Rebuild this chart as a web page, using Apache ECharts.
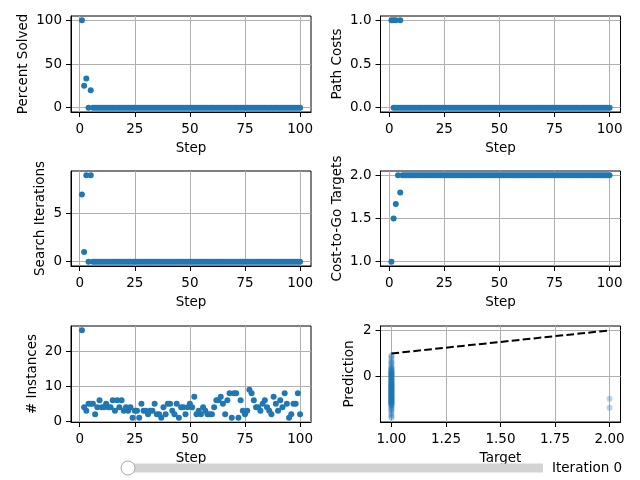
<!DOCTYPE html>
<html>
<head>
<meta charset="utf-8">
<script src="https://cdn.jsdelivr.net/npm/echarts@6/dist/echarts.min.js"></script>
<style>
  html, body { margin: 0; padding: 0; background: #fff; }
  #chart { width: 640px; height: 480px; }
</style>
</head>
<body>
<div id="chart"></div>
<script>
// steps 1..100 (x categories of the step plots)
const steps = Array.from({ length: 100 }, (_, i) => i + 1)
const stepTicks = [0, 25, 50, 75, 100]

const percentSolved = [
  100, 25, 33.3, 0, 20, 0, 0, 0, 0, 0, 0, 0, 0, 0, 0, 0, 0, 0, 0, 0,
  0, 0, 0, 0, 0, 0, 0, 0, 0, 0, 0, 0, 0, 0, 0, 0, 0, 0, 0, 0,
  0, 0, 0, 0, 0, 0, 0, 0, 0, 0, 0, 0, 0, 0, 0, 0, 0, 0, 0, 0,
  0, 0, 0, 0, 0, 0, 0, 0, 0, 0, 0, 0, 0, 0, 0, 0, 0, 0, 0, 0,
  0, 0, 0, 0, 0, 0, 0, 0, 0, 0, 0, 0, 0, 0, 0, 0, 0, 0, 0, 0
]
const pathCosts = [
  1, 1, 1, 0, 1, 0, 0, 0, 0, 0, 0, 0, 0, 0, 0, 0, 0, 0, 0, 0,
  0, 0, 0, 0, 0, 0, 0, 0, 0, 0, 0, 0, 0, 0, 0, 0, 0, 0, 0, 0,
  0, 0, 0, 0, 0, 0, 0, 0, 0, 0, 0, 0, 0, 0, 0, 0, 0, 0, 0, 0,
  0, 0, 0, 0, 0, 0, 0, 0, 0, 0, 0, 0, 0, 0, 0, 0, 0, 0, 0, 0,
  0, 0, 0, 0, 0, 0, 0, 0, 0, 0, 0, 0, 0, 0, 0, 0, 0, 0, 0, 0
]
// unsolved instances of the first steps also give zero cost
const pathCostsZeroSteps = [2, 3, 5]

const searchIterations = [
  7, 1, 9, 0, 9, 0, 0, 0, 0, 0, 0, 0, 0, 0, 0, 0, 0, 0, 0, 0,
  0, 0, 0, 0, 0, 0, 0, 0, 0, 0, 0, 0, 0, 0, 0, 0, 0, 0, 0, 0,
  0, 0, 0, 0, 0, 0, 0, 0, 0, 0, 0, 0, 0, 0, 0, 0, 0, 0, 0, 0,
  0, 0, 0, 0, 0, 0, 0, 0, 0, 0, 0, 0, 0, 0, 0, 0, 0, 0, 0, 0,
  0, 0, 0, 0, 0, 0, 0, 0, 0, 0, 0, 0, 0, 0, 0, 0, 0, 0, 0, 0
]
const costToGoTargets = [
  1, 1.5, 1.667, 2, 1.8, 2, 2, 2, 2, 2, 2, 2, 2, 2, 2, 2, 2, 2, 2, 2,
  2, 2, 2, 2, 2, 2, 2, 2, 2, 2, 2, 2, 2, 2, 2, 2, 2, 2, 2, 2,
  2, 2, 2, 2, 2, 2, 2, 2, 2, 2, 2, 2, 2, 2, 2, 2, 2, 2, 2, 2,
  2, 2, 2, 2, 2, 2, 2, 2, 2, 2, 2, 2, 2, 2, 2, 2, 2, 2, 2, 2,
  2, 2, 2, 2, 2, 2, 2, 2, 2, 2, 2, 2, 2, 2, 2, 2, 2, 2, 2, 2
]
const numInstances = [
  26, 4, 3, 5, 5, 5, 2, 4, 6, 4, 4, 5, 4, 4, 6, 3, 6, 4, 6, 3,
  4, 3, 4, 1, 3, 3, 1, 5, 3, 3, 2, 3, 3, 5, 2, 2, 1, 4, 2, 5,
  5, 3, 2, 5, 1, 4, 4, 2, 4, 5, 4, 7, 2, 3, 2, 4, 3, 2, 2, 2,
  4, 6, 6, 7, 5, 2, 6, 8, 1, 8, 8, 1, 6, 3, 2, 3, 9, 8, 6, 4,
  4, 3, 5, 6, 4, 3, 2, 7, 5, 3, 6, 4, 8, 5, 1, 2, 5, 5, 8, 2
]

// prediction vs target
const predAtTargetOne = [
  0.92, 0.86, 0.8, 0.71, 0.63, 0.55, 0.47, 0.41, 0.34, 0.3, 0.25, 0.2, 0.16, 0.12, 0.07,
  0.03, -0.02, -0.07, -0.1, -0.14, -0.19, -0.23, -0.27, -0.31, -0.35, -0.38, -0.42, -0.46,
  -0.5, -0.53, -0.57, -0.6, -0.64, -0.68, -0.71, -0.75, -0.79, -0.82, -0.86, -0.9, -0.93,
  -0.97, -1.01, -1.05, -1.09, -1.13, -1.18, -1.24, -1.3, -1.37, -1.45, -1.52, -1.6, -1.67,
  -1.74, -1.79, 0.22, 0.1, -0.04, -0.2, -0.33, -0.48, -0.62, -0.77, -0.92, -1.04, -1.1,
  0.28, 0.15, 0.05, -0.12, -0.25, -0.4, -0.55, -0.7, -0.84, -0.98, -1.07, -1.15, -1.22,
  0.18, 0.0, -0.16, -0.3, -0.44, -0.58, -0.73, -0.88, -1.0, -1.12, -1.2, -0.36, -0.66,
  -0.95, 0.08, -0.52, -0.8, -1.28, -1.42, 0.38, 0.6
]
const predAtTargetTwo = [-0.96, -1.35]
const identityX = [1, 2]
const identityY = [1, 2]

const FONT = 'DejaVu Sans'
const FS = 13.5
const BLUE = '#1f77b4'

const grids = [
  { left: 71, top: 16, width: 240, height: 96 },
  { left: 380.5, top: 16, width: 240, height: 96 },
  { left: 71, top: 171, width: 240, height: 95 },
  { left: 380.5, top: 171, width: 240, height: 95 },
  { left: 71, top: 326, width: 240, height: 96 },
  { left: 380.5, top: 326, width: 240, height: 96 }
]

function axisBase (gridIndex, name, min, max, ticks, fmt, nameGap) {
  return {
    gridIndex: gridIndex,
    type: 'value',
    min: min,
    max: max,
    name: name,
    nameLocation: 'middle',
    nameGap: nameGap,
    nameTextStyle: { color: '#000', fontSize: FS, fontFamily: FONT },
    axisLine: { show: true, onZero: false, lineStyle: { color: '#000', width: 1 } },
    axisTick: { show: true, length: 5, customValues: ticks, lineStyle: { color: '#000', width: 1 } },
    axisLabel: { customValues: ticks, color: '#000', fontSize: FS, fontFamily: FONT, margin: 10, formatter: fmt },
    splitLine: { show: true, lineStyle: { color: '#b0b0b0', width: 1 } }
  }
}

const intFmt = v => String(Math.round(v))
const f1 = v => v.toFixed(1)
const f2 = v => v.toFixed(2)

const xAxes = []
for (let i = 0; i < 5; i++) {
  xAxes.push(axisBase(i, 'Step', -3.95, 104.95, stepTicks, intFmt, 29))
}
xAxes.push(axisBase(5, 'Target', 0.95, 2.05, [1, 1.25, 1.5, 1.75, 2], f2, 29))

const yAxes = [
  axisBase(0, 'Percent Solved', -5, 105, [0, 50, 100], intFmt, 41),
  axisBase(1, 'Path Costs', -0.05, 1.05, [0, 0.5, 1], f1, 36),
  axisBase(2, 'Search Iterations', -0.45, 9.45, [0, 5], intFmt, 24),
  axisBase(3, 'Cost-to-Go Targets', 0.95, 2.05, [1, 1.5, 2], f1, 36),
  axisBase(4, '# Instances', -0.25, 27.25, [0, 10, 20], intFmt, 32),
  axisBase(5, 'Prediction', -1.97, 2.19, [0, 2], intFmt, 24)
]
yAxes.forEach(a => { a.axisLabel.margin = 9 })

function pts (vals) {
  return vals.map((v, i) => [steps[i], v])
}

function scatter (idx, data, opacity) {
  return {
    type: 'scatter',
    xAxisIndex: idx,
    yAxisIndex: idx,
    data: data,
    symbolSize: 6,
    itemStyle: { color: BLUE, opacity: opacity || 1 },
    silent: true,
    animation: false
  }
}

const chart = echarts.init(document.getElementById('chart'), null, { renderer: 'canvas' })
chart.setOption({
  animation: false,
  backgroundColor: '#fff',
  textStyle: { fontFamily: FONT },
  grid: grids.map(g => Object.assign({ show: true, borderColor: '#000', borderWidth: 1, backgroundColor: 'transparent' }, g)),
  xAxis: xAxes,
  yAxis: yAxes,
  series: [
    scatter(0, pts(percentSolved)),
    scatter(1, pts(pathCosts).concat(pathCostsZeroSteps.map(s => [s, 0]))),
    scatter(2, pts(searchIterations)),
    scatter(3, pts(costToGoTargets)),
    scatter(4, pts(numInstances)),
    scatter(5, predAtTargetOne.map(v => [1, v]).concat(predAtTargetTwo.map(v => [2, v])), 0.3),
    {
      type: 'line',
      xAxisIndex: 5,
      yAxisIndex: 5,
      data: identityX.map((x, i) => [x, identityY[i]]),
      symbol: 'none',
      lineStyle: { color: '#000', width: 2, type: [7.7, 3.3] },
      silent: true,
      animation: false
    }
  ],
  graphic: [
    {
      type: 'rect',
      shape: { x: 128, y: 463.5, width: 415, height: 9 },
      style: { fill: '#d3d3d3' },
      z: 100
    },
    {
      type: 'circle',
      shape: { cx: 128, cy: 468, r: 7 },
      style: { fill: '#fff', stroke: '#a9a9a9', lineWidth: 1 },
      z: 101
    },
    {
      type: 'text',
      x: 552,
      y: 468,
      style: { text: 'Iteration 0', fill: '#000', font: FS + 'px "' + FONT + '"', textVerticalAlign: 'middle' },
      z: 101
    }
  ]
})
</script>
</body>
</html>
